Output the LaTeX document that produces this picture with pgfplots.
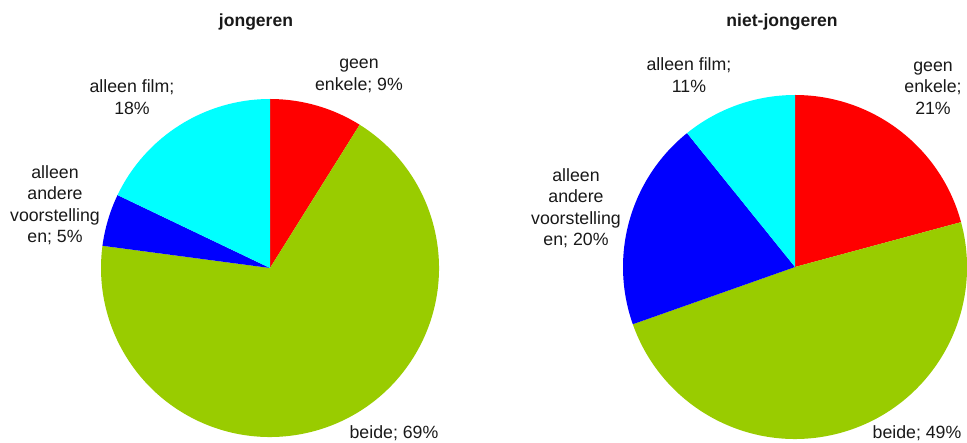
\documentclass[border=0pt]{standalone}
\usepackage{pgfplots}
\pgfplotsset{compat=1.18}
\usepackage{pgfplotstable}
\usepackage{fontspec}
\setmainfont{Liberation Sans}
\definecolor{cRed}{HTML}{FF0000}
\definecolor{cGreen}{HTML}{99CC00}
\definecolor{cBlue}{HTML}{0000FF}
\definecolor{cCyan}{HTML}{00FFFF}
% values in percent, clockwise from 12 o'clock
% jongeren: geen enkele 8.9, beide 68.2, alleen andere 5.0, alleen film 17.9
% niet-jongeren: geen enkele 20.8, beide 48.8, alleen andere 19.6, alleen film 10.8
\newcommand\slice[6]{%
  \fill[#6] (axis cs:#1,#2) -- ++({90-3.6*(#4)}:#3bp)
    arc[start angle={90-3.6*(#4)}, end angle={90-3.6*(#5)}, radius=#3bp] -- cycle;}
\begin{document}
\begin{tikzpicture}
\begin{axis}[at={(0,0)}, anchor=south west, width=967bp, height=443bp, scale only axis,
  xmin=0, xmax=967, ymin=0, ymax=443, hide axis, clip=false]
% left pie (jongeren)
\slice{270}{175}{169}{0}{8.9}{cRed}
\slice{270}{175}{169}{8.9}{77.1}{cGreen}
\slice{270}{175}{169}{77.1}{82.1}{cBlue}
\slice{270}{175}{169}{82.1}{100}{cCyan}
% right pie (niet-jongeren)
\slice{795}{176}{172}{0}{20.8}{cRed}
\slice{795}{176}{172}{20.8}{69.6}{cGreen}
\slice{795}{176}{172}{69.6}{89.2}{cBlue}
\slice{795}{176}{172}{89.2}{100}{cCyan}
\begin{scope}[every node/.style={align=center, font=\fontsize{17.8}{21.6}\selectfont, text=black!90, inner sep=0pt}]
\node[font=\fontsize{17.6}{20}\selectfont\bfseries] at (axis cs:256,421) {jongeren};
\node at (axis cs:359,367) {geen\\enkele; 9\%};
\node at (axis cs:132,346) {alleen film;\\18\%};
\node at (axis cs:55,238) {alleen\\andere\\voorstelling\\en; 5\%};
\node at (axis cs:394,10) {beide; 69\%};
\node[font=\fontsize{17.6}{20}\selectfont\bfseries] at (axis cs:782,421) {niet-jongeren};
\node at (axis cs:933,355) {geen\\enkele;\\21\%};
\node at (axis cs:689,368) {alleen film;\\11\%};
\node at (axis cs:576,235) {alleen\\andere\\voorstelling\\en; 20\%};
\node at (axis cs:917,10) {beide; 49\%};
\end{scope}
\end{axis}
\pgfresetboundingbox
\useasboundingbox (0,0) rectangle (967bp,443bp);
\end{tikzpicture}
\end{document}
